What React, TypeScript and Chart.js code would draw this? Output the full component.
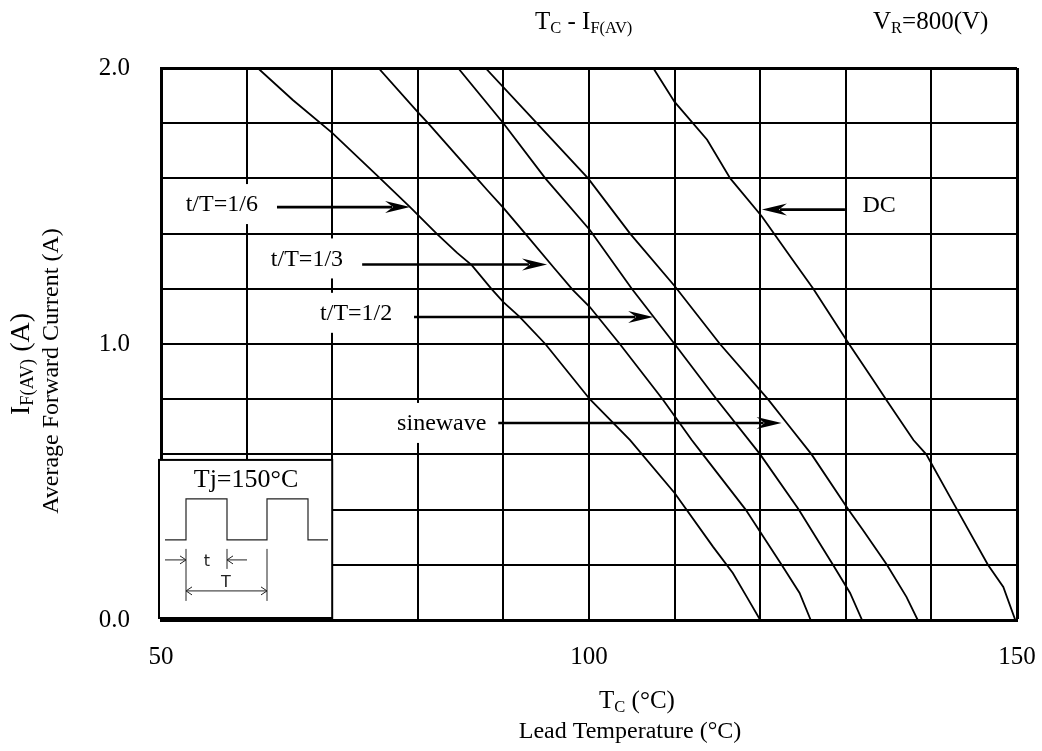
import React, { useEffect, useRef } from "react";
import { Chart, registerables } from "chart.js";

Chart.register(...registerables);

// ---- axes ----
const X_MIN = 50;
const X_MAX = 150;
const X_STEP = 10;
const Y_MIN = 0;
const Y_MAX = 2;
const Y_STEP = 0.2;
const xTickLabels = [50, 100, 150];
const yTickLabels = [0, 1, 2];

// ---- series (Tc in °C, IF(AV) in A) ----
const seriesNames = ["t/T=1/6", "t/T=1/3", "t/T=1/2", "sinewave", "DC"];

const tc16 = [61.3, 65.4, 70, 75.6, 79.1, 82.2, 84.6, 86.3, 88.6, 90, 91.9, 94.9, 100.1, 104.8, 110, 114.5, 116.8, 118.5, 120];
const if16 = [2.0, 1.884, 1.765, 1.6, 1.496, 1.4, 1.33, 1.286, 1.2, 1.152, 1.098, 1.0, 0.8, 0.652, 0.46, 0.265, 0.17, 0.08, 0];

const tc13 = [75.4, 80, 81.2, 86.9, 88.1, 90, 92.5, 95.8, 98.1, 100.1, 103.6, 108.6, 112.0, 113.3, 118.3, 122.5, 124.6, 125.9];
const if13 = [2.0, 1.84, 1.8, 1.6, 1.558, 1.493, 1.402, 1.28, 1.196, 1.134, 1.0, 0.8, 0.652, 0.6, 0.4, 0.2, 0.098, 0];

const tc12 = [84.7, 90, 94.9, 100.1, 105, 110, 114.9, 120, 124.5, 128.5, 130.5, 131.9];
const if12 = [2.0, 1.8, 1.6, 1.413, 1.2, 1.0, 0.8, 0.6, 0.4, 0.2, 0.098, 0];

const tcSine = [87.9, 93.9, 99.9, 104.8, 110, 115.3, 120.9, 123.1, 126.0, 130.3, 132.0, 134.8, 137.1, 138.4];
const ifSine = [2.0, 1.8, 1.6, 1.4, 1.21, 1.0, 0.8, 0.714, 0.6, 0.4, 0.326, 0.2, 0.083, 0];

const tcDC = [107.5, 110, 113.8, 116.5, 120.2, 123.8, 126.2, 130.3, 133.2, 134.9, 137.9, 139.4, 143.0, 146.6, 148.4, 149.8];
const ifDC = [2.0, 1.877, 1.74, 1.6, 1.462, 1.304, 1.2, 1.004, 0.87, 0.79, 0.652, 0.6, 0.4, 0.2, 0.12, 0];

const seriesTc = [tc16, tc13, tc12, tcSine, tcDC];
const seriesIf = [if16, if13, if12, ifSine, ifDC];

// ---- annotation labels with arrows (data units) ----
const annLabels = ["t/T=1/6", "t/T=1/3", "t/T=1/2", "sinewave", "DC"];
const annTextX = [57.1, 67.05, 72.8, 82.8, 133.9];
const annTextY = [1.507, 1.31, 1.113, 0.714, 1.505];
const annBox = [true, true, true, true, false];
const annArrowFrom = [63.55, 73.5, 79.56, 89.4, 129.9];
const annArrowTo = [79.1, 95.1, 107.5, 122.5, 120.2];
const annArrowY = [1.496, 1.288, 1.098, 0.714, 1.487];

// inset box (data units)
const insetX = [50, 70];
const insetY = [0, 0.58];

const SERIF = '"Liberation Serif", "Times New Roman", serif';
const SANS = '"DejaVu Sans", "Liberation Sans", sans-serif';

type Part = { t: string; sub?: boolean };

function richWidth(ctx: CanvasRenderingContext2D, parts: Part[], size: number) {
  let w = 0;
  for (const p of parts) {
    ctx.font = `${p.sub ? size * 0.66 : size}px ${SERIF}`;
    w += ctx.measureText(p.t).width;
  }
  return w;
}

function drawRich(ctx: CanvasRenderingContext2D, parts: Part[], x: number, y: number, size: number, align: "left" | "center") {
  const total = richWidth(ctx, parts, size);
  let cx = align === "center" ? x - total / 2 : x;
  ctx.textAlign = "left";
  ctx.textBaseline = "alphabetic";
  for (const p of parts) {
    const s = p.sub ? size * 0.66 : size;
    ctx.font = `${s}px ${SERIF}`;
    ctx.fillText(p.t, cx, p.sub ? y + size * 0.16 : y);
    cx += ctx.measureText(p.t).width;
  }
}

function arrowHead(ctx: CanvasRenderingContext2D, tipX: number, y: number, dir: number) {
  ctx.beginPath();
  ctx.moveTo(tipX, y);
  ctx.lineTo(tipX - dir * 25, y - 6);
  ctx.lineTo(tipX - dir * 17, y);
  ctx.lineTo(tipX - dir * 25, y + 6);
  ctx.closePath();
  ctx.fill();
}

function chevron(ctx: CanvasRenderingContext2D, tipX: number, y: number, dir: number) {
  ctx.beginPath();
  ctx.moveTo(tipX - dir * 6, y - 4);
  ctx.lineTo(tipX, y);
  ctx.lineTo(tipX - dir * 6, y + 4);
  ctx.stroke();
}

const overlay = {
  id: "overlay",
  afterDraw(chart: any) {
    const ctx: CanvasRenderingContext2D = chart.ctx;
    const xs = chart.scales.x;
    const ys = chart.scales.y;
    const area = chart.chartArea;
    ctx.save();
    ctx.fillStyle = "#000";
    ctx.strokeStyle = "#000";

    // --- labels + arrows ---
    for (let i = 0; i < annLabels.length; i++) {
      const tx = xs.getPixelForValue(annTextX[i]);
      const ty = ys.getPixelForValue(annTextY[i]);
      ctx.font = `24px ${SERIF}`;
      const w = ctx.measureText(annLabels[i]).width;
      if (annBox[i]) {
        ctx.fillStyle = "#fff";
        ctx.fillRect(tx - w / 2 - 7, ty - 20, w + 14, 40);
      }
      ctx.fillStyle = "#000";
      ctx.textAlign = "center";
      ctx.textBaseline = "middle";
      ctx.fillText(annLabels[i], tx, ty + 1);

      const ax0 = xs.getPixelForValue(annArrowFrom[i]);
      const ax1 = xs.getPixelForValue(annArrowTo[i]);
      const ay = ys.getPixelForValue(annArrowY[i]);
      const dir = ax1 > ax0 ? 1 : -1;
      ctx.lineWidth = 2.6;
      ctx.beginPath();
      ctx.moveTo(ax0, ay);
      ctx.lineTo(ax1 - dir * 18, ay);
      ctx.stroke();
      arrowHead(ctx, ax1, ay, dir);
    }

    // --- inset ---
    const L = xs.getPixelForValue(insetX[0]) - 2;
    const R = xs.getPixelForValue(insetX[1]);
    const B = ys.getPixelForValue(insetY[0]) - 2;
    const T = ys.getPixelForValue(insetY[1]);
    ctx.fillStyle = "#fff";
    ctx.fillRect(L, T, R - L, B - T);
    ctx.lineWidth = 2;
    ctx.strokeStyle = "#000";
    ctx.strokeRect(L, T, R - L, B - T);
    ctx.fillStyle = "#000";
    ctx.font = `26px ${SERIF}`;
    ctx.textAlign = "center";
    ctx.textBaseline = "alphabetic";
    ctx.fillText("Tj=150°C", L + 87, T + 27);

    ctx.strokeStyle = "#222";
    ctx.lineWidth = 1.2;
    const lo = T + 80;
    const hi = T + 39;
    ctx.beginPath();
    ctx.moveTo(L + 6, lo);
    ctx.lineTo(L + 27, lo);
    ctx.lineTo(L + 27, hi);
    ctx.lineTo(L + 68, hi);
    ctx.lineTo(L + 68, lo);
    ctx.lineTo(L + 108, lo);
    ctx.lineTo(L + 108, hi);
    ctx.lineTo(L + 149, hi);
    ctx.lineTo(L + 149, lo);
    ctx.lineTo(L + 169, lo);
    ctx.stroke();

    // dimension lines
    ctx.lineWidth = 1;
    ctx.beginPath();
    ctx.moveTo(L + 27, T + 89);
    ctx.lineTo(L + 27, T + 141);
    ctx.moveTo(L + 68, T + 89);
    ctx.lineTo(L + 68, T + 109);
    ctx.moveTo(L + 108, T + 89);
    ctx.lineTo(L + 108, T + 141);
    ctx.moveTo(L + 6, T + 100);
    ctx.lineTo(L + 27, T + 100);
    ctx.moveTo(L + 88, T + 100);
    ctx.lineTo(L + 68, T + 100);
    ctx.moveTo(L + 27, T + 131);
    ctx.lineTo(L + 108, T + 131);
    ctx.stroke();
    chevron(ctx, L + 27, T + 100, 1);
    chevron(ctx, L + 68, T + 100, -1);
    chevron(ctx, L + 27, T + 131, -1);
    chevron(ctx, L + 108, T + 131, 1);
    ctx.font = `16px ${SANS}`;
    ctx.fillStyle = "#222";
    ctx.textAlign = "center";
    ctx.fillText("t", L + 48, T + 106);
    ctx.fillText("T", L + 67, T + 127);

    // --- titles ---
    ctx.fillStyle = "#000";
    drawRich(ctx, [{ t: "T" }, { t: "C", sub: true }, { t: " - I" }, { t: "F(AV)", sub: true }], area.left + 374, 29, 25, "left");
    drawRich(ctx, [{ t: "V" }, { t: "R", sub: true }, { t: "=800(V)" }], area.left + 712, 29, 25, "left");

    // x axis title
    drawRich(ctx, [{ t: "T" }, { t: "C", sub: true }, { t: " (°C)" }], 637, 708, 25, "center");
    drawRich(ctx, [{ t: "Lead Temperature (°C)" }], 630, 738, 24, "center");

    // y axis title (rotated)
    ctx.save();
    ctx.translate(29, 364);
    ctx.rotate(-Math.PI / 2);
    drawRich(ctx, [{ t: "I" }, { t: "F(AV)", sub: true }, { t: " (A)" }], 0, 0, 28, "center");
    ctx.restore();
    ctx.save();
    ctx.translate(58, 371);
    ctx.rotate(-Math.PI / 2);
    drawRich(ctx, [{ t: "Average Forward Current (A)" }], 0, 0, 24, "center");
    ctx.restore();

    ctx.restore();
  },
};

export default function App() {
  const ref = useRef<HTMLCanvasElement | null>(null);

  useEffect(() => {
    if (!ref.current) return;
    const datasets = seriesNames.map((name, i) => ({
      label: name,
      data: seriesTc[i].map((t, j) => ({ x: t, y: seriesIf[i][j] })),
      showLine: true,
      borderColor: "#000",
      borderWidth: 1.8,
      pointRadius: 0,
      tension: 0,
      fill: false,
    }));
    const chart = new Chart(ref.current, {
      type: "scatter",
      data: { datasets },
      options: {
        animation: false,
        responsive: false,
        maintainAspectRatio: false,
        layout: { padding: { top: 68, right: 25, left: 0, bottom: 0 } },
        plugins: { legend: { display: false }, tooltip: { enabled: false }, title: { display: false } },
        scales: {
          x: {
            type: "linear",
            min: X_MIN,
            max: X_MAX,
            afterFit: (s: any) => {
              s.height = 131;
              s.paddingLeft = 0;
              s.paddingRight = 0;
            },
            ticks: {
              stepSize: X_STEP,
              autoSkip: false,
              maxRotation: 0,
              padding: 22,
              color: "#000",
              font: { family: SERIF, size: 25 },
              callback: (v: any) => (xTickLabels.includes(Number(v)) ? String(v) : ""),
            },
            grid: {
              color: "#000",
              lineWidth: (c: any) => (c.tick && c.tick.value === X_MAX ? 3 : 2),
              drawTicks: false,
            },
            border: { display: true, color: "#000", width: 3 },
          },
          y: {
            type: "linear",
            min: Y_MIN,
            max: Y_MAX,
            afterFit: (s: any) => {
              s.width = 161;
              s.paddingTop = 0;
              s.paddingBottom = 0;
            },
            ticks: {
              stepSize: Y_STEP,
              autoSkip: false,
              padding: 31,
              color: "#000",
              font: { family: SERIF, size: 25 },
              callback: (v: any) => {
                const n = Number(v);
                const r = Math.round(n);
                return Math.abs(n - r) < 1e-6 && yTickLabels.includes(r) ? r.toFixed(1) : "";
              },
            },
            grid: {
              color: "#000",
              lineWidth: (c: any) => (c.tick && Math.abs(c.tick.value - Y_MAX) < 1e-6 ? 3 : 2),
              drawTicks: false,
            },
            border: { display: true, color: "#000", width: 3 },
          },
        },
      },
      plugins: [overlay],
    } as any);
    return () => chart.destroy();
  }, []);

  return (
    <div style={{ position: "absolute", left: 0, top: 0, width: 1042, height: 751, background: "#fff" }}>
      <canvas ref={ref} width={1042} height={751} style={{ display: "block", width: 1042, height: 751 }} />
    </div>
  );
}
